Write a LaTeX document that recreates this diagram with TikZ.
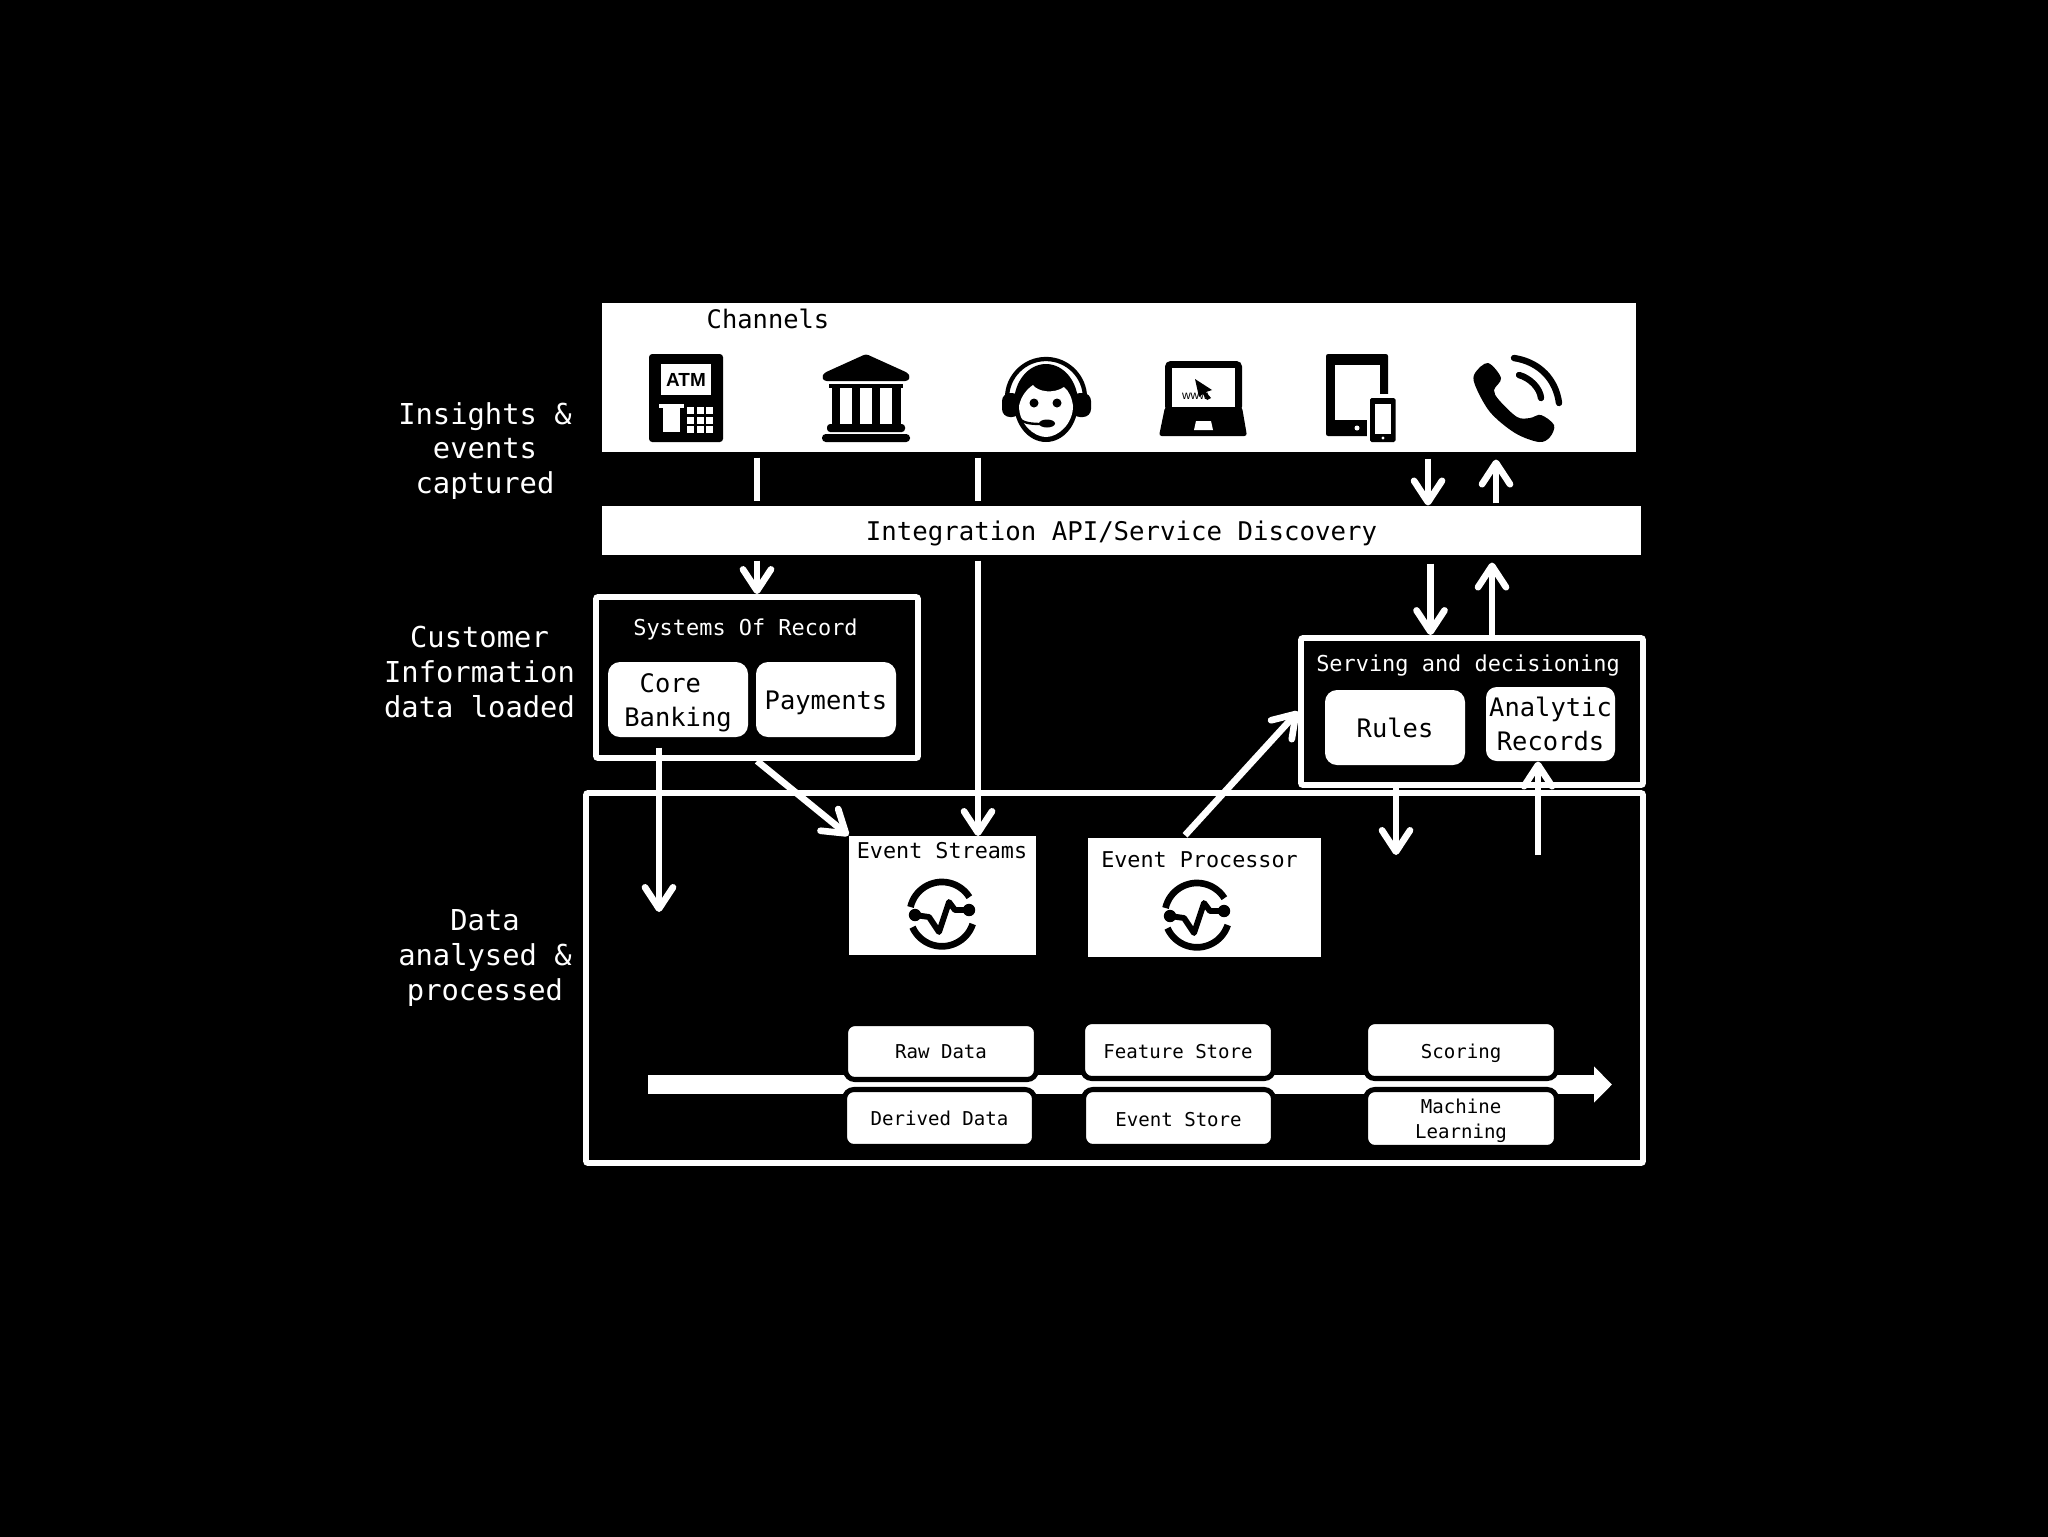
\documentclass[tikz,border=0pt]{standalone}
\usepackage{fontspec}
\setmainfont{DejaVu Sans Mono}
\newfontfamily\iconfont{Liberation Sans}
\usetikzlibrary{arrows.meta}
\tikzset{
  bx/.style 2 args={minimum width=#1*0.375pt,minimum height=#2*0.375pt,inner sep=0pt},
  panel/.style={fill=white,text=black,align=center},
  softbox/.style={panel,rounded corners=4.5pt,font=\fontsize{9.55}{12.75}\selectfont},
  framebox/.style={draw=white,line width=2.2pt,rounded corners=0.8pt},
  chipbox/.style={panel,draw=black,line width=1.9pt,rounded corners=3.5pt,font=\fontsize{7.16}{9.4}\selectfont},
  lowtext/.style={text height=#1,text depth=0.5pt},
  sidelabel/.style={text=white,align=center,inner sep=0pt,font=\fontsize{10.8}{13}\selectfont},
  title/.style={anchor=base,inner sep=0pt},
  wline/.style={draw=white,line width=2.5pt},
  warr/.style={wline,-{Straight Barb[length=8pt,width=10.5pt,round]}},
  ink/.style={fill=black,draw=none},
  hole/.style={fill=white,draw=none}
}
\newcommand{\eventicon}[1]{%
  \begin{scope}[shift={(#1)}]
    \draw[black,line width=2.5pt] (-31.5,-7) arc[start angle=-167,end angle=-32,radius=32.3];
    \draw[black,line width=2.5pt] (30.7,10) arc[start angle=18,end angle=156,radius=32.3];
    \draw[black,line width=2.2pt,line join=round] (-27,1) -- (-13,3) -- (-3,18) -- (7,-12) -- (13,-4) -- (27,-4);
    \fill[black] (-27,1) circle[radius=6.2];
    \fill[black] (27,-4) circle[radius=6.2];
  \end{scope}}
\begin{document}
\begin{tikzpicture}[x=0.375pt,y=-0.375pt]
\useasboundingbox (0,0) rectangle (2048,1536);
\fill[black] (-6,-6) rectangle (2054,1542);

% ---- panels
\node[panel,bx={1034}{149}] (chan) at (1119,377.5) {};
\node[title,text=black,font=\fontsize{9.55}{12}\selectfont] (chantitle) at (768,328) {Channels};
\node[panel,bx={1039}{49},lowtext=8.1pt,font=\fontsize{9.65}{12}\selectfont] (api) at (1121.5,530.5) {Integration API/Service Discovery};

\node[framebox,bx={1057}{370}] (big) at (1114.5,978) {};
\node[framebox,bx={322}{161}] (sor) at (757,677.5) {};
\node[framebox,bx={342}{147}] (serv) at (1472,711.5) {};

\node[title,text=white,font=\fontsize{8.22}{12}\selectfont] (sortitle) at (745.5,635) {Systems Of Record};
\node[title,text=white,font=\fontsize{8.22}{12}\selectfont] (servtitle) at (1468,671) {Serving and decisioning};

\node[softbox,bx={140}{75}] (core) at (678,699.5) {\rule{0pt}{9.4pt}Core\phantom{x}\\Banking};
\node[softbox,bx={140}{75},lowtext=8.1pt] (pay) at (826,699.5) {Payments};
\node[softbox,bx={140}{75}] (rules) at (1395,727.5) {Rules};
\node[softbox,bx={129}{74},rounded corners=4pt] (ar) at (1550.5,724) {Analytic\\Records};

\node[panel,bx={187}{119}] (es) at (942.5,895.5) {};
\node[title,text=black,font=\fontsize{8.16}{12}\selectfont] (estitle) at (942,858) {Event Streams};
\node[panel,bx={233}{119}] (ep) at (1204.5,897.5) {};
\node[title,text=black,font=\fontsize{8.16}{12}\selectfont] (eptitle) at (1199.5,867) {Event Processor};
\eventicon{942,914}
\eventicon{1197,915}

% ---- side labels
\node[sidelabel] (lab1) at (485,451) {Insights \&\\events\\captured};
\node[sidelabel] (lab2) at (479.5,672) {Customer\\Information\\data loaded};
\node[sidelabel] (lab3) at (485,958) {Data\\analysed \&\\processed};

% ---- connector guides and free ends
\coordinate (xstream) at (978,836);
\coordinate (xin) at (1428,0);
\coordinate (xout) at (1496,0);
\coordinate (xdown) at (1430.5,0);
\coordinate (xup) at (1492,0);
\coordinate (coreend) at (659,912);
\coordinate (rulesend) at (1396,855);
\coordinate (arstart) at (1538,855);
\coordinate (epx) at (1183,0);
\coordinate (flowstart) at (648,1084.5);
\coordinate (flowend) at (1612,1084.5);

% ---- connectors
\draw[wline,shorten <=5*0.375pt,shorten >=4*0.375pt] (chan.south -| sor.north) -- (api.north -| sor.north);
\draw[wline,shorten <=5*0.375pt,shorten >=4*0.375pt] (chan.south -| xstream) -- (api.north -| xstream);
\draw[warr,shorten <=5*0.375pt] (api.south -| sor.north) -- (sor.north);
\draw[warr,shorten <=5*0.375pt] (api.south -| xstream) -- (xstream);
\draw[warr,shorten <=6*0.375pt] (chan.south -| xin) -- (api.north -| xin);
\draw[warr,shorten <=2*0.375pt,shorten >=7*0.375pt] (api.north -| xout) -- (chan.south -| xout);
\draw[warr,shorten <=8*0.375pt] (api.south -| xdown) -- (serv.north -| xdown);
\draw[warr,shorten >=7*0.375pt] (serv.north -| xup) -- (api.south -| xup);
\draw[warr,shorten <=10*0.375pt] (core.south -| coreend) -- (coreend);
\draw[warr] (sor.south) -- (es.north west);
\draw[warr,shorten <=3*0.375pt] (ep.north -| epx) -- (serv.west);
\draw[warr] (serv.south -| rulesend) -- (rulesend);
\draw[warr] (arstart) -- (ar.south -| arstart);

% ---- flow arrow and chips
\draw[draw=white,line width=7.1pt,-{Triangle[length=18*0.375pt,width=35*0.375pt]}] (flowstart) -- (flowend);
\node[chipbox,bx={191}{56}] (raw) at (941,1051.5) {Raw Data};
\node[chipbox,bx={190}{57}] (derived) at (939.5,1118) {Derived Data};
\node[chipbox,bx={191}{57},lowtext=6.5pt] (feature) at (1178,1050) {Feature Store};
\node[chipbox,bx={190}{57},lowtext=6.5pt] (evstore) at (1178.5,1118) {Event Store};
\node[chipbox,bx={191}{57},lowtext=6.5pt] (scoring) at (1461,1050) {Scoring};
\node[chipbox,bx={191}{58}] (ml) at (1461,1118.5) {\rule{0pt}{7.4pt}Machine\\Learning};

% ---- ATM icon
\fill[ink,rounded corners=1.2pt] (649,354) rectangle (723,442);
\fill[hole] (661,364) rectangle (711,395);
\node[inner sep=0pt,text=black,font={\iconfont\bfseries\fontsize{7.1}{8}\selectfont}] (atm) at (686,380) {ATM};
\fill[hole] (659,404) rectangle (684,408);
\fill[hole] (663,408) rectangle (680,432);
\foreach \kx in {687,696.5,706} \foreach \ky in {407,416.5,426} \fill[hole] (\kx,\ky) rectangle ++(7,7);

% ---- bank icon
\fill[ink,rounded corners=1pt] (866,354) -- (908,373) -- (910,377) -- (908,381) -- (824,381) -- (822,377) -- (824,373) -- cycle;
\fill[ink] (829,384) rectangle (903,388);
\fill[ink] (832,388) rectangle (901,424);
\fill[hole] (840,388) rectangle (852,424);
\fill[hole] (860,388) rectangle (872,424);
\fill[hole] (880,388) rectangle (892,424);
\fill[ink,rounded corners=1.2pt] (827,424) rectangle (905,432);
\fill[ink,rounded corners=1.4pt] (822,434) rectangle (910,442);

% ---- agent icon
\draw[black,line width=1.6pt] (1007,398) arc[start angle=180,end angle=360,radius=39];
\fill[ink,rounded corners=3pt] (1002,393) rectangle (1020,417);
\fill[ink,rounded corners=3pt] (1072,393) rectangle (1091,417);
\fill[ink] (1046,403) ellipse[x radius=32,y radius=39];
\fill[hole] (1019,406) .. controls (1021,396) and (1027,389) .. (1033,385)
   .. controls (1038,392) and (1054,394) .. (1064,387)
   .. controls (1069,391) and (1072,398) .. (1073,406)
   .. controls (1073,424) and (1058,437) .. (1046,437)
   .. controls (1034,437) and (1019,424) .. (1019,406) -- cycle;
\fill[ink] (1034,403) circle[radius=4.5];
\fill[ink] (1057,403) circle[radius=4.5];
\draw[black,line width=0.9pt] (1018,417) .. controls (1022,423) and (1030,424) .. (1042,424);
\fill[ink] (1047,423.5) ellipse[x radius=8,y radius=4];

% ---- laptop icon
\fill[ink,rounded corners=2pt] (1165,361) rectangle (1242,412);
\fill[ink,rounded corners=1pt] (1165,407) -- (1242,407) -- (1247,436) -- (1159,436) -- cycle;
\fill[hole] (1172,368) rectangle (1235,407);
\fill[hole] (1196,421) -- (1211,421) -- (1213,430) -- (1194,430) -- cycle;
\fill[ink] (1195,379) -- (1212,390) -- (1206,392) -- (1211,398) -- (1207,400) -- (1203,394) -- (1199,397) -- cycle;
\node[inner sep=0pt,text=black,anchor=base,font={\iconfont\fontsize{4.5}{5}\selectfont}] (www) at (1195,399.5) {www};

% ---- tablet and phone icon
\fill[ink,rounded corners=0.8pt] (1326,354) rectangle (1388,436);
\fill[hole] (1335,365) rectangle (1380,420);
\fill[hole] (1367,394) rectangle (1398,444);
\fill[hole] (1357,428) circle[radius=2.5];
\fill[ink,rounded corners=0.6pt] (1370,398) rectangle (1395.5,442);
\fill[hole] (1375,404) rectangle (1391,434);
\fill[hole] (1383,438) circle[radius=1.6];

% ---- handset icon
\fill[ink] plot[smooth cycle,tension=0.55] coordinates {(1488,363) (1501,378) (1494,390) (1499,400) (1517,417) (1530,418) (1541,415) (1554,425) (1550,437) (1539,442) (1515,433) (1490,412) (1475,385) (1475,373)};
\draw[black,line width=2.4pt,line cap=round] (1514,358) .. controls (1540,362) and (1556,380) .. (1559,403);
\draw[black,line width=2.4pt,line cap=round] (1519,375) .. controls (1530,378) and (1540,388) .. (1541,398);
\end{tikzpicture}
\end{document}
